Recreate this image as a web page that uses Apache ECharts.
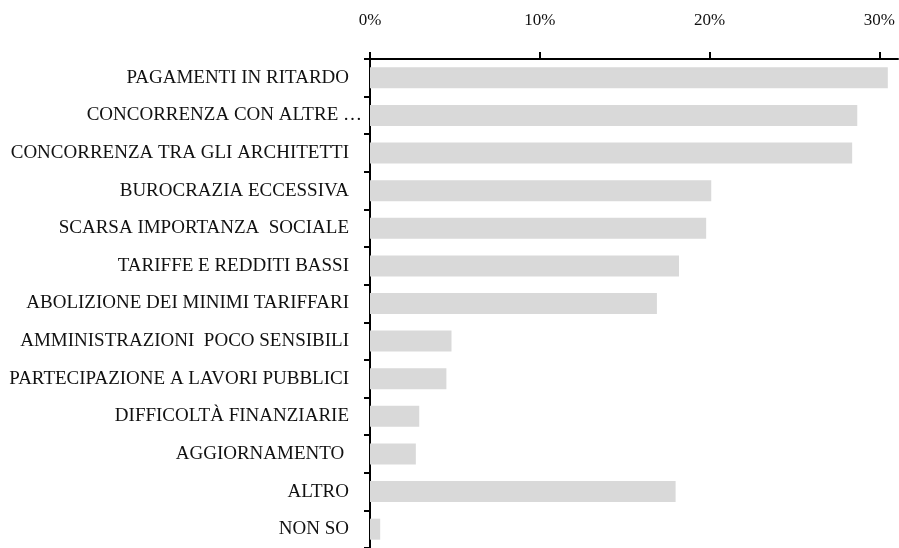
<!DOCTYPE html>
<html>
<head>
<meta charset="utf-8">
<title>Problemi della professione</title>
<script src="https://cdn.jsdelivr.net/npm/echarts@6/dist/echarts.min.js"></script>
<style>
  html, body { margin: 0; padding: 0; background: #ffffff; }
  #chart { width: 899px; height: 548px; }
</style>
</head>
<body>
<div id="chart"></div>
<script>
// Problem categories, top to bottom
const categories = [
  'PAGAMENTI IN RITARDO',
  'CONCORRENZA CON ALTRE …',
  'CONCORRENZA TRA GLI ARCHITETTI',
  'BUROCRAZIA ECCESSIVA',
  'SCARSA IMPORTANZA  SOCIALE',
  'TARIFFE E REDDITI BASSI',
  'ABOLIZIONE DEI MINIMI TARIFFARI',
  'AMMINISTRAZIONI  POCO SENSIBILI',
  'PARTECIPAZIONE A LAVORI PUBBLICI',
  'DIFFICOLTÀ FINANZIARIE',
  'AGGIORNAMENTO ',
  'ALTRO',
  'NON SO'
];

// Share of respondents, in percent
const shares = [30.5, 28.7, 28.4, 20.1, 19.8, 18.2, 16.9, 4.8, 4.5, 2.9, 2.7, 18.0, 0.6];

// Percentage ticks on the value axis
const tickValues = [0, 10, 20, 30];

const serif = '"Liberation Serif", "DejaVu Serif", serif';

// The truncated label sits closer to the axis than the others
const categoryItems = categories.map(name =>
  name.endsWith('…')
    ? { value: name, textStyle: { padding: [0, -13, 0, 0] } }
    : name
);

const chart = echarts.init(document.getElementById('chart'), null, { renderer: 'canvas' });

chart.setOption({
  animation: false,
  backgroundColor: '#ffffff',
  grid: { left: 370, right: 1, top: 59, bottom: -3, containLabel: false },
  xAxis: {
    type: 'value',
    position: 'top',
    min: 0,
    max: 31.1,
    interval: 10,
    splitLine: { show: false },
    axisLine: { show: true, lineStyle: { color: '#000000', width: 2 } },
    axisTick: {
      show: true,
      length: 7,
      lineStyle: { color: '#000000', width: 2 },
      customValues: tickValues
    },
    axisLabel: {
      margin: 30,
      color: '#111111',
      fontFamily: serif,
      fontSize: 17,
      customValues: tickValues,
      formatter: v => v + '%'
    }
  },
  yAxis: {
    type: 'category',
    inverse: true,
    data: categoryItems,
    axisLine: { show: true, onZero: false, lineStyle: { color: '#000000', width: 2 } },
    axisTick: { show: true, length: 6, lineStyle: { color: '#000000', width: 2 } },
    axisLabel: {
      margin: 21,
      color: '#111111',
      fontFamily: serif,
      fontSize: 19
    },
    splitLine: { show: false }
  },
  series: [{
    type: 'bar',
    data: shares,
    barWidth: 21,
    itemStyle: { color: '#d9d9d9' },
    silent: true
  }]
});
</script>
</body>
</html>
